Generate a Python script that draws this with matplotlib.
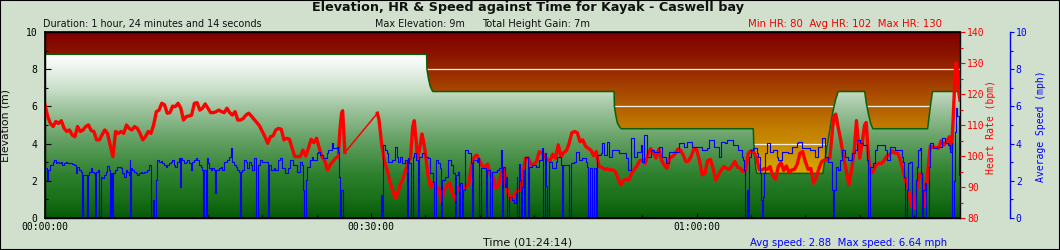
import numpy as np
import matplotlib
matplotlib.use('Agg')
import matplotlib.pyplot as plt
from matplotlib.colors import LinearSegmentedColormap
from matplotlib.ticker import MultipleLocator
from matplotlib.patches import Rectangle

# ---------------- data ----------------
TOTAL_MIN = 84 + 14 / 60.0

ele_time = [0, 35.13, 35.16, 35.3, 35.45, 35.6, 35.7,
            52.39, 52.42, 52.55, 52.7, 52.9, 53.04,
            65.2, 65.25, 65.35, 65.45, 65.53,
            71.61, 71.7, 71.85, 72.0, 72.15, 72.27,
            72.4, 72.6, 72.8, 73.03,
            75.46, 75.6, 75.8, 76.0, 76.21,
            81.25, 81.4, 81.55, 81.71, TOTAL_MIN]
ele_m = [8.8, 8.8, 8.0, 7.5, 7.1, 6.9, 6.8,
         6.8, 6.0, 5.5, 5.1, 4.9, 4.8,
         4.8, 4.0, 3.2, 2.6, 2.4,
         2.4, 2.8, 3.3, 3.9, 4.4, 4.8,
         5.3, 5.9, 6.4, 6.8,
         6.8, 6.2, 5.6, 5.1, 4.8,
         4.8, 5.5, 6.2, 6.8, 6.8]

hr_time = [
    0.0, 0.25, 0.5, 0.75, 1.0, 1.25, 1.5, 1.75, 2.0, 2.25,
    2.5, 2.75, 3.0, 3.25, 3.5, 3.75, 4.0, 4.25, 4.5, 4.75,
    5.0, 5.25, 5.5, 5.75, 6.0, 6.25, 6.5, 6.75, 7.0, 7.25,
    7.5, 7.75, 8.0, 8.25, 8.5, 8.75, 9.0, 9.25, 9.5, 9.75,
    10.0, 10.25, 10.5, 10.75, 11.0, 11.25, 11.5, 11.75, 12.0, 12.25,
    12.5, 12.75, 13.0, 13.25, 13.5, 13.75, 14.0, 14.25, 14.5, 14.75,
    15.0, 15.25, 15.5, 15.75, 16.0, 16.25, 16.5, 16.75, 17.0, 17.25,
    17.5, 17.75, 18.0, 18.25, 18.5, 18.75, 19.0, 19.25, 19.5, 19.75,
    20.0, 20.25, 20.5, 20.75, 21.0,
    21.25, 21.5, 21.75, 22.0, 22.25, 22.5, 22.75, 23.0, 23.25, 23.5,
    23.75, 24.0, 24.25, 24.5, 24.75, 25.0, 25.25, 25.5, 25.75, 26.0,
    26.25, 26.5, 26.75, 27.0, 27.15, 27.3, 27.4, 27.5, 27.6, 30.6,
    30.75, 30.9, 31.0, 31.25, 31.5, 31.75, 32.0, 32.25, 32.5, 32.75,
    33.0, 33.25, 33.5, 33.65, 33.85, 34.0, 34.15, 34.3, 34.5, 34.7,
    34.85, 35.0, 35.25, 35.5, 35.75, 36.0, 36.25, 36.5, 36.75, 37.0,
    37.25, 37.5, 37.75, 38.0, 38.25, 38.5, 38.75, 39.0, 39.25, 39.5,
    39.75, 40.0, 40.25, 40.5, 40.75, 41.0, 41.25, 41.5, 41.75,
    42.0, 42.25, 42.5, 42.75, 43.0, 43.25, 43.5, 43.75, 44.0, 44.25,
    44.5, 44.75, 45.0, 45.25, 45.5, 45.75, 46.0, 46.25, 46.5, 46.75,
    47.0, 47.25, 47.5, 47.75, 48.0, 48.25, 48.5, 48.75, 49.0, 49.25,
    49.5, 49.75, 50.0, 50.25, 50.5, 50.75, 51.0, 51.25, 51.5, 51.75,
    52.0, 52.25, 52.5, 52.75, 53.0, 53.25, 53.5, 53.75, 54.0, 54.25,
    54.5, 54.75, 55.0, 55.25, 55.5, 55.75, 56.0, 56.25, 56.5, 56.75,
    57.0, 57.25, 57.5, 57.75, 58.0, 58.25, 58.5, 58.75, 59.0, 59.25,
    59.5, 59.75, 60.0, 60.25, 60.5, 60.75, 61.0, 61.25, 61.5, 61.75,
    62.0, 62.25, 62.5,
    62.75, 63.0, 63.25, 63.5, 63.75, 64.0, 64.25, 64.5, 64.75, 65.0,
    65.25, 65.5, 65.75, 66.0, 66.25, 66.5, 66.75, 67.0, 67.25, 67.5,
    67.75, 68.0, 68.25, 68.5, 68.75, 69.0, 69.25, 69.5, 69.75, 70.0,
    70.25, 70.5, 70.75, 71.0, 71.25, 71.5, 71.75, 72.0, 72.25, 72.5,
    72.65, 72.8, 73.0, 73.25, 73.5, 73.75, 74.0, 74.25, 74.5, 74.7,
    74.85, 75.0, 75.25, 75.45, 75.6, 75.8, 76.0, 76.25, 76.5, 76.75,
    77.0, 77.25, 77.5, 77.75, 78.0, 78.25, 78.5, 78.75, 79.0, 79.25,
    79.5, 79.75, 80.0, 80.25, 80.5, 80.75, 81.0, 81.25, 81.5, 81.75,
    82.0, 82.25, 82.5, 82.75, 83.0, 83.25, 83.45, 83.6, 83.75, 83.85,
    84.0, 84.1, 84.23]
hr_bpm = [
    116.5, 112.7, 110.5, 109.5, 111.1, 110.5, 111.4, 109.0, 107.9, 108.4,
    106.8, 106.2, 109.5, 107.9, 108.4, 109.5, 110.0, 108.2, 107.9, 105.2,
    105.2, 106.8, 108.4, 107.3, 103.5, 99.8, 107.9, 107.3, 107.9, 107.3,
    110.0, 108.9, 108.4, 109.5, 108.9, 107.3, 105.2, 106.2, 107.9, 107.3,
    110.0, 114.3, 114.8, 117.0, 116.5, 113.8, 114.0, 116.1, 115.9, 117.0,
    115.4, 111.6, 112.7, 112.9, 113.2, 117.0, 117.2, 114.8, 115.4, 116.8,
    115.4, 114.0, 114.0, 114.3, 114.8, 114.3, 114.0, 115.4, 114.0, 113.2,
    114.3, 111.6, 111.6, 112.1, 113.2, 113.8, 112.9, 111.8, 110.8, 109.7,
    107.9, 106.2, 104.1, 106.2, 106.5,
    108.4, 108.9, 108.6, 105.2, 105.7, 105.4, 102.5, 99.8, 99.8, 99.8,
    101.9, 100.0, 102.5, 105.4, 104.3, 105.7, 102.5, 99.8, 98.5, 95.5,
    97.1, 98.2, 99.3, 99.8, 108.4, 113.8, 114.6, 108.4, 101.1, 113.8,
    111.6, 106.8, 103.6, 98.2, 95.5, 91.7, 89.0, 86.3, 88.5, 91.2,
    93.1, 96.0, 98.5, 99.3, 109.5, 111.4, 105.2, 99.3, 102.5, 107.1,
    104.6, 101.4, 93.9, 89.9, 91.2, 90.1, 89.6, 85.3, 89.0, 90.3,
    91.2, 88.0, 86.0, 89.6, 90.3, 89.6, 90.1, 90.7, 96.6, 99.6,
    100.3, 98.5, 96.8, 96.6, 97.4, 93.9, 93.3, 89.6, 90.4,
    94.6, 96.0, 89.6, 86.7, 85.8, 87.8, 89.0, 89.0, 94.6, 99.3,
    99.3, 97.1, 97.4, 98.2, 101.4, 100.9, 100.0, 98.7, 98.5, 100.6,
    99.3, 103.6, 99.8, 101.1, 101.7, 104.1, 107.5, 107.9, 107.5, 104.6,
    105.2, 103.2, 102.5, 101.9, 100.1, 101.4, 96.6, 96.4, 95.7, 95.9,
    95.5, 95.5, 95.0, 92.8, 90.7, 92.1, 92.5, 92.3, 94.4, 95.7,
    96.8, 98.5, 98.7, 97.6, 100.3, 102.4, 101.1, 99.3, 102.2, 98.7,
    97.1, 96.0, 99.3, 99.8, 100.7, 102.2, 101.9, 100.3, 98.2, 98.4,
    100.0, 102.5, 101.9, 98.5, 93.9, 94.4, 98.5, 98.9, 96.0, 92.3,
    93.9, 95.5, 96.6,
    96.0, 95.7, 96.8, 98.2, 96.4, 96.0, 95.0, 95.5, 100.9, 101.7,
    101.1, 99.8, 95.5, 95.5, 96.0, 95.7, 96.6, 93.5, 92.5, 96.6,
    97.9, 95.3, 96.8, 94.6, 95.5, 95.7, 97.4, 100.9, 101.4, 98.2,
    95.7, 96.0, 91.2, 93.1, 96.0, 98.2, 98.7, 98.7, 99.3, 108.9,
    112.9, 113.5, 109.5, 105.2, 99.8, 95.5, 90.7, 95.5, 101.9, 111.4,
    105.2, 99.3, 104.6, 110.0, 110.8, 99.8, 94.4, 95.0, 97.1, 97.6,
    97.6, 98.5, 100.0, 100.3, 101.7, 100.9, 100.9, 98.7, 95.0, 91.7,
    89.0, 83.7, 83.1, 89.0, 94.2, 93.9, 83.7, 94.4, 103.2, 102.8,
    102.8, 102.5, 104.9, 103.5, 104.6, 106.2, 101.9, 111.6, 124.0, 130.0,
    127.5, 121.0, 118.0]

# recording gap (no samples) between these two times: drawn as a thin joining line
hr_gap = (27.6, 30.6)

spd_time = [
    0.0, 0.15, 0.3, 0.5, 0.7, 0.85, 1.0, 1.15, 1.3, 1.45,
    1.6, 1.75, 1.9, 2.06, 2.2, 2.36, 2.5, 2.67, 2.83, 2.98,
    3.13, 3.28, 3.43, 3.5, 3.72, 3.83, 3.95, 4.05, 4.2, 4.36,
    4.51, 4.6, 4.72, 4.9, 5.0, 5.12, 5.28, 5.43, 5.6, 5.74,
    5.9, 6.0, 6.07, 6.13, 6.27, 6.4, 6.5, 6.66, 6.8, 6.96,
    7.12, 7.27, 7.42, 7.58, 7.73, 7.8, 7.84, 7.95, 8.04, 8.19,
    8.35, 8.5, 8.65, 8.8, 8.95, 9.11, 9.26, 9.42, 9.57, 9.72,
    9.8, 9.9, 10.0, 10.2, 10.34, 10.5, 10.64, 10.8, 10.95, 11.1,
    11.26, 11.4, 11.56, 11.72, 11.87, 12.0, 12.18, 12.33, 12.42, 12.5,
    12.64, 12.79, 12.95, 13.1, 13.25, 13.4, 13.55, 13.71, 13.86, 14.02,
    14.17, 14.33, 14.48, 14.57, 14.68, 14.8, 14.9, 15.0, 15.1, 15.25,
    15.4, 15.55, 15.62, 15.7, 15.86, 16.0, 16.17, 16.32, 16.47, 16.63,
    16.78, 16.93, 17.09, 17.24, 17.39, 17.55, 17.7, 17.85, 17.95, 18.05,
    18.16, 18.31, 18.47, 18.62, 18.77, 18.93, 19.08, 19.23, 19.39, 19.47,
    19.6, 19.8, 20.0, 20.15, 20.3, 20.46, 20.52, 20.65, 20.85, 21.07,
    21.17, 21.48, 21.63, 21.78, 22.09, 22.4, 22.55, 22.86, 23.16, 23.47,
    23.68, 23.78, 23.87, 24.02, 24.14, 24.39, 24.54, 24.7, 25.0, 25.16,
    25.31, 25.62, 25.92, 26.08, 26.38, 26.54, 26.84, 27.0, 27.09, 27.15,
    27.24, 27.4, 30.92, 31.05, 31.14, 31.29, 31.44, 31.6, 31.9, 32.21,
    32.36, 32.52, 32.67, 32.82, 33.13, 33.28, 33.38, 33.53, 33.65, 33.84,
    33.96, 34.11, 34.3, 34.45, 34.66, 34.97, 35.28, 35.43, 35.74, 35.8,
    35.95, 36.2, 36.35, 36.41, 36.54, 36.81, 37.06, 37.36, 37.58, 37.76,
    37.88, 38.04, 38.13, 38.25, 38.38, 38.5, 38.65, 38.96, 39.2, 39.33,
    39.42, 39.73, 39.88, 39.97, 40.18, 40.49, 40.58, 40.71, 40.95, 41.01,
    41.17, 41.57, 41.81, 41.96, 42.05, 42.17, 42.36, 42.48, 42.57, 42.73,
    43.03, 43.19, 43.34, 43.43, 43.49, 43.59, 43.71, 43.8, 43.89, 44.01,
    44.11, 44.2, 44.32, 44.44, 44.57, 44.87, 45.18, 45.49, 45.79, 45.89,
    46.04, 46.16, 46.25, 46.41, 46.71, 47.02, 47.17, 47.48, 47.57, 47.7,
    48.09, 48.25, 48.4, 48.71, 48.86, 49.17, 49.47, 49.78, 49.93, 50.03,
    50.15, 50.3, 50.39, 50.55, 50.7, 50.85, 51.16, 51.31, 51.47, 51.77,
    51.93, 52.23, 52.54, 52.85, 53.15, 53.46, 53.71, 53.92, 54.23, 54.53,
    54.84, 54.99, 55.15, 55.45, 55.76, 56.07, 56.53, 56.84, 57.14, 57.45,
    57.91, 58.37, 58.83, 59.14, 59.6, 60.06, 60.52, 60.98, 61.13, 61.59,
    62.05, 62.2, 62.61, 62.76, 63.07, 63.37, 63.68, 63.83, 64.14, 64.29,
    64.39, 64.45, 64.6, 64.69, 64.81, 65.0, 65.21, 65.52, 65.67, 65.83,
    65.92, 65.98, 66.07, 66.16, 66.29, 66.44, 66.75, 67.05, 67.36, 67.51,
    67.82, 68.13, 68.43, 68.74, 69.2, 69.35, 69.66, 70.12, 70.43, 70.89,
    71.19, 71.5, 71.81, 72.11, 72.42, 72.51, 72.67, 72.79, 73.03, 73.19,
    73.34, 73.65, 73.95, 74.26, 74.57, 74.72, 75.03, 75.33, 75.64, 75.79,
    75.95, 76.25, 76.41, 76.56, 77.02, 77.33, 77.48, 77.79, 78.25, 78.71,
    78.86, 79.01, 79.11, 79.2, 79.32, 79.47, 79.63, 79.78, 79.84, 80.15,
    80.3, 80.4, 80.55, 80.64, 80.73, 80.86, 81.01, 81.07, 81.38, 81.47,
    81.78, 82.08, 82.54, 82.85, 83.16, 83.31, 83.46, 83.52, 83.65, 83.75,
    83.85, 84.0, 84.1, 84.23]
spd_mph = [
    2.67, 2.04, 2.58, 2.85, 3.03, 3.12, 2.94, 3.03, 2.94, 3.03,
    2.85, 2.97, 3.03, 2.97, 2.94, 2.94, 2.90, 2.85, 2.40, 2.76,
    2.58, 2.49, 0.0, 2.31, 2.31, 0.0, 2.31, 2.49, 2.67, 2.49,
    2.40, 0.0, 2.49, 2.58, 0.0, 2.22, 2.13, 2.31, 2.49, 2.80,
    2.58, 0.0, 2.40, 0.0, 2.40, 2.58, 2.58, 2.76, 2.72, 2.67,
    2.40, 2.22, 2.58, 2.49, 2.31, 3.12, 0.0, 2.67, 2.58, 2.49,
    2.40, 2.31, 2.40, 2.49, 2.40, 2.49, 2.49, 2.58, 2.85, 2.40,
    0.0, 0.97, 0.0, 2.04, 3.12, 3.03, 3.08, 2.94, 2.85, 2.76,
    2.85, 2.94, 3.03, 3.12, 2.85, 2.76, 3.03, 3.21, 1.68, 3.21,
    3.12, 2.94, 3.03, 3.12, 2.94, 2.58, 3.03, 3.12, 3.21, 3.12,
    2.85, 2.76, 2.58, 0.0, 2.60, 0.0, 3.21, 2.94, 2.67, 2.58,
    2.67, 2.58, 1.33, 2.58, 2.58, 2.67, 2.76, 2.58, 3.03, 3.03,
    3.12, 3.30, 3.75, 3.03, 2.85, 2.76, 2.58, 2.49, 0.0, 2.49,
    2.58, 3.12, 3.03, 2.67, 3.03, 2.85, 2.58, 3.21, 2.76, 0.0,
    2.85, 3.12, 3.03, 3.03, 3.03, 3.03, 0.0, 2.85, 2.58, 2.67,
    2.58, 3.12, 3.21, 2.67, 2.40, 2.67, 3.12, 2.85, 2.49, 3.03,
    2.85, 1.50, 0.0, 2.04, 2.76, 3.12, 3.30, 3.12, 3.48, 3.57,
    3.39, 3.21, 3.48, 3.66, 4.01, 3.75, 3.83, 3.57, 2.22, 0.0,
    1.50, 0.0, 1.23, 0.0, 3.92, 3.66, 3.48, 3.03, 3.12, 3.83,
    3.30, 3.03, 3.30, 2.94, 3.12, 0.0, 3.21, 2.94, 0.0, 3.30,
    3.48, 3.12, 0.0, 3.30, 3.48, 3.30, 3.21, 2.40, 1.95, 0.0,
    3.12, 2.94, 2.67, 0.0, 2.04, 2.22, 3.12, 2.85, 2.40, 0.0,
    2.31, 2.49, 0.0, 1.86, 0.0, 1.50, 3.66, 3.48, 2.94, 0.0,
    3.12, 3.03, 3.21, 0.0, 2.67, 2.67, 0.0, 2.58, 2.49, 0.0,
    2.49, 2.58, 2.67, 3.66, 0.0, 2.76, 1.68, 2.22, 0.0, 1.15,
    0.97, 0.79, 1.33, 2.22, 0.0, 2.90, 2.04, 0.0, 1.68, 2.58,
    0.0, 3.30, 3.30, 0.0, 2.76, 2.85, 2.76, 3.12, 3.75, 0.0,
    3.48, 1.72, 0.0, 3.03, 2.67, 3.03, 3.30, 2.85, 0.0, 2.85,
    2.85, 0.0, 2.94, 3.03, 3.57, 3.12, 3.21, 3.03, 2.76, 0.0,
    2.67, 2.67, 0.0, 2.67, 0.0, 3.39, 3.48, 4.01, 3.39, 4.10,
    3.30, 3.66, 3.66, 3.48, 3.48, 3.21, 2.58, 4.28, 3.30, 3.57,
    3.92, 3.03, 4.46, 3.30, 3.66, 3.57, 3.83, 3.30, 2.94, 3.57,
    3.57, 4.01, 3.83, 4.10, 3.83, 3.83, 3.66, 3.75, 4.19, 3.83,
    3.30, 4.10, 4.01, 4.19, 4.19, 3.92, 3.92, 3.66, 3.30, 3.12,
    2.58, 0.0, 1.50, 0.0, 3.30, 3.66, 3.75, 3.48, 3.30, 2.40,
    0.97, 0.0, 1.15, 2.40, 3.48, 4.01, 3.57, 3.66, 3.30, 3.12,
    3.57, 3.57, 3.48, 3.83, 4.01, 4.10, 3.75, 3.75, 3.66, 3.30,
    3.83, 4.28, 3.30, 3.03, 1.50, 0.0, 1.50, 2.76, 2.58, 3.12,
    3.66, 3.30, 3.12, 3.48, 3.66, 4.19, 4.01, 3.92, 3.12, 0.0,
    2.76, 2.94, 3.66, 3.92, 3.92, 3.66, 3.12, 3.83, 3.66, 3.66,
    3.30, 3.03, 2.22, 0.0, 1.50, 2.94, 3.03, 2.58, 0.0, 2.04,
    2.76, 3.66, 3.75, 2.40, 0.0, 1.50, 1.86, 0.0, 2.76, 4.01,
    3.75, 3.83, 4.28, 4.01, 3.92, 3.57, 4.01, 0.0, 2.00, 4.60,
    5.90, 5.50, 2.30, 2.30]

time_ticks = [0, 30, 60]
time_labels = ['00:00:00', '00:30:00', '01:00:00']
ele_ticks = [0, 2, 4, 6, 8, 10]
hr_ticks = [80, 90, 100, 110, 120, 130, 140]
spd_ticks = [0, 2, 4, 6, 8, 10]

title = 'Elevation, HR & Speed against Time for Kayak - Caswell bay'
sub_duration = 'Duration: 1 hour, 24 minutes and 14 seconds'
sub_maxele = 'Max Elevation: 9m'
sub_gain = 'Total Height Gain: 7m'
sub_hr = 'Min HR: 80  Avg HR: 102  Max HR: 130'
x_title = 'Time (01:24:14)'
spd_summary = 'Avg speed: 2.88  Max speed: 6.64 mph'

# ---------------- figure ----------------
W, H = 1060, 250
BG = '#d0e0cc'
MONO = 'DejaVu Sans Mono'
plt.rcParams['font.family'] = ['DejaVu Sans']

fig = plt.figure(figsize=(W / 100, H / 100), dpi=100)
fig.patch.set_facecolor(BG)

def fx(x):
    return x / W

def fy(y):
    return 1 - y / H

L, T, R, B = 45, 32, 960, 218
ax = fig.add_axes([fx(L), fy(B), (R - L) / W, (B - T) / H])
ax.set_xlim(0, TOTAL_MIN)
ax.set_ylim(0, 10)

sky = LinearSegmentedColormap.from_list('sky', [
    (0.0, '#e2c400'), (0.24, '#d6a800'), (0.48, '#c27e00'),
    (0.68, '#a84800'), (0.88, '#8c1400'), (1.0, '#800000')])
ground = LinearSegmentedColormap.from_list('ground', [
    (0.0, '#075a07'), (0.1, '#187018'), (0.24, '#2f822f'),
    (0.42, '#64a064'), (0.6, '#a2c6a2'), (0.69, '#c8dec8'),
    (0.8, '#eaf2ea'), (0.88, '#ffffff'), (1.0, '#ffffff')])
grad = np.linspace(0, 1, 256).reshape(-1, 1)
ax.imshow(grad, cmap=sky, extent=[0, TOTAL_MIN, 0, 10], origin='lower',
          aspect='auto', zorder=0, interpolation='bilinear')
for g in (2, 4, 6, 8):
    ax.axhline(g, color='#f2eee8', lw=0.9, zorder=0.5)
poly = ax.fill_between(ele_time, 0, ele_m, facecolor='none', edgecolor='none')
img = ax.imshow(grad, cmap=ground, extent=[0, TOTAL_MIN, 0, 10], origin='lower',
                aspect='auto', zorder=1, interpolation='bilinear')
img.set_clip_path(poly.get_paths()[0], transform=ax.transData)
ax.plot(ele_time, ele_m, color='#0a600a', lw=1.1, zorder=1.5)

ax.set_xticks(time_ticks, time_labels, fontfamily=MONO, fontsize=7)
ax.xaxis.set_minor_locator(MultipleLocator(5))
ax.tick_params(axis='x', which='major', direction='in', length=3.8, width=0.8, pad=3.0)
ax.tick_params(axis='x', which='minor', direction='in', length=2.2, width=0.8)
ax.set_yticks(ele_ticks, [str(v) for v in ele_ticks], fontfamily=MONO, fontsize=7)
ax.yaxis.set_minor_locator(MultipleLocator(1))
ax.tick_params(axis='y', which='major', direction='in', length=4, width=0.8, pad=5.5)
ax.tick_params(axis='y', which='minor', direction='in', length=2.5, width=0.8)
for s in ax.spines.values():
    s.set_color('black')
    s.set_linewidth(1.0)

# Heart rate axis
ax2 = ax.twinx()
ax2.set_ylim(80, 140)
ax2.set_yticks(hr_ticks, [str(v) for v in hr_ticks], fontfamily=MONO, fontsize=7)
ax2.yaxis.set_minor_locator(MultipleLocator(5))
ax2.tick_params(axis='y', which='major', direction='out', length=3.8, width=0.8,
                pad=1.2, colors='#ff0000')
ax2.tick_params(axis='y', which='minor', direction='out', length=2.2, width=0.8,
                colors='#ff0000')
for s in ax2.spines.values():
    s.set_visible(False)
i0 = hr_time.index(hr_gap[0])
i1 = hr_time.index(hr_gap[1])
ax2.plot(hr_time[:i0 + 1], hr_bpm[:i0 + 1], color='#ff0000', lw=2.4, zorder=2)
ax2.plot(hr_time[i0:i1 + 1], hr_bpm[i0:i1 + 1], color='#ff0000', lw=1.1, zorder=2)
ax2.plot(hr_time[i1:], hr_bpm[i1:], color='#ff0000', lw=2.4, zorder=2)

# Speed axis
ax3 = ax.twinx()
ax3.set_ylim(0, 10)
ax3.spines['right'].set_position(('outward', 36))
ax3.spines['right'].set_color('#0000ff')
ax3.spines['right'].set_linewidth(1.0)
for k in ('top', 'bottom', 'left'):
    ax3.spines[k].set_color('black')
    ax3.spines[k].set_linewidth(1.2)
ax3.set_yticks(spd_ticks, [str(v) for v in spd_ticks], fontfamily=MONO, fontsize=7)
ax3.yaxis.set_minor_locator(MultipleLocator(1))
ax3.tick_params(axis='y', which='major', direction='out', length=3.0, width=0.8,
                pad=1.2, colors='#0000ff')
ax3.tick_params(axis='y', which='minor', direction='out', length=2.0, width=0.8,
                colors='#0000ff')
ax3.plot(spd_time, spd_mph, color='#0000ff', lw=0.8, drawstyle='steps-post', zorder=2)

# ---------------- texts ----------------
fig.text(fx(528), fy(8), title, ha='center', va='center', fontsize=9.2,
         fontweight='bold', color='#111111')
fig.text(fx(43), fy(24), sub_duration, ha='left', va='center', fontsize=6.9, color='#111111')
fig.text(fx(375), fy(24), sub_maxele, ha='left', va='center', fontsize=6.9, color='#111111')
fig.text(fx(482), fy(24), sub_gain, ha='left', va='center', fontsize=7.2, color='#111111')
fig.text(fx(748), fy(24), sub_hr, ha='left', va='center', fontsize=7.3, color='#ee0000')
fig.text(fx(528), fy(242.5), x_title, ha='center', va='center', fontsize=8, color='#111111')
fig.text(fx(750), fy(243), spd_summary, ha='left', va='center', fontsize=7.3,
         color='#0000ff')
fig.text(fx(6), fy(125), 'Elevation (m)', ha='center', va='center', rotation=90,
         fontsize=7.8, color='#111111')
fig.text(fx(991.5), fy(127), 'Heart Rate (bpm)', ha='center', va='center', rotation=90,
         fontsize=7, family=MONO, color='#ff0000')
fig.text(fx(1041.5), fy(126), 'Average Speed (mph)', ha='center', va='center', rotation=90,
         fontsize=7, family=MONO, color='#0000ff')

fig.add_artist(Rectangle((0, 0), 1, 1, transform=fig.transFigure, fill=False,
                         edgecolor='black', lw=1.5))

fig.savefig('out.png', dpi=100, facecolor=BG)
